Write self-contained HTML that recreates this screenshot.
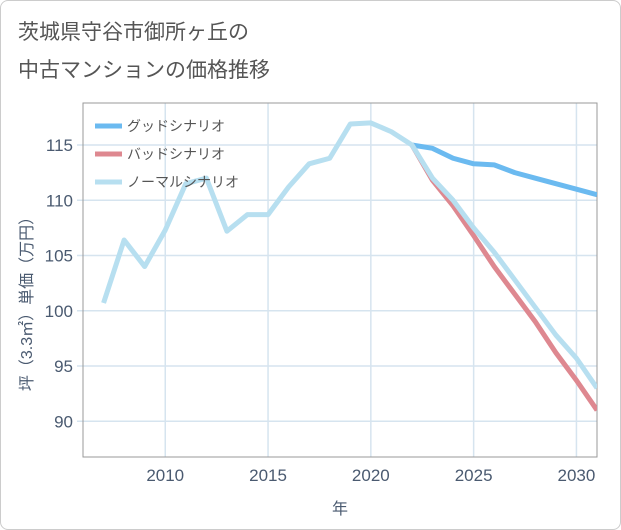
<!DOCTYPE html>
<html><head><meta charset="utf-8"><style>
body{margin:0;background:#fff;}
#wrap{position:relative;width:621px;height:530px;overflow:hidden;font-family:"Liberation Sans","Noto Sans CJK JP",sans-serif;}
#frame{position:absolute;left:0;top:0;width:619px;height:528px;border:1px solid #ccc;border-radius:8px;}
#title{position:absolute;left:18px;top:14px;font-size:21px;line-height:38px;color:#555;}
</style></head><body>
<div id="wrap">
<div id="frame"></div>
<div id="title">茨城県守谷市御所ヶ丘の<br>中古マンションの価格推移</div>
<svg id="chart" width="621" height="530" style="position:absolute;left:0;top:0"></svg>
</div>
<script>
const normYears=[2007,2008,2009,2010,2011,2012,2013,2014,2015,2016,2017,2018,2019,2020,2021,2022,2023,2024,2025,2026,2027,2028,2029,2030,2031];
const normVals=[100.7,106.4,104,107.3,111.5,112,107.2,108.7,108.7,111.2,113.3,113.8,116.9,117,116.2,115,112,110,107.5,105.3,102.8,100.3,97.8,95.7,93];
const goodYears=[2022,2023,2024,2025,2026,2027,2028,2029,2030,2031];
const goodVals=[115,114.7,113.8,113.3,113.2,112.5,112,111.5,111,110.5];
const badYears=[2022,2023,2024,2025,2026,2027,2028,2029,2030,2031];
const badVals=[115,111.8,109.5,106.8,104,101.5,99,96.2,93.7,91];
const xTicks=[2010,2015,2020,2025,2030];
const yTicks=[90,95,100,105,110,115];
const L=83,R=597,T=103,B=457;
const x=v=>L+(v-2006)/(2031-2006)*(R-L);
const y=v=>145+(115-v)*11.05;
const svg=document.getElementById('chart');
const NS='http://www.w3.org/2000/svg';
function mk(t,a){const e=document.createElementNS(NS,t);for(const k in a)e.setAttribute(k,a[k]);svg.appendChild(e);return e;}
xTicks.forEach(t=>{
 const g=mk('line',{x1:x(t),x2:x(t),y1:T,y2:B,stroke:'#d6e4ef','stroke-width':1.5});
 
 
 const l=mk('text',{x:x(t),y:B+24,'text-anchor':'middle','font-size':17,fill:'#4a5a70'});
 l.textContent=t;
 
 
});
yTicks.forEach(t=>{
 const g=mk('line',{x1:L-6,x2:R,y1:y(t),y2:y(t),stroke:'#d6e4ef','stroke-width':1.5});
 
 
 const l=mk('text',{x:L-10,y:y(t)+6,'text-anchor':'end','font-size':17,fill:'#4a5a70'});
 l.textContent=t;
 
 
});
const box=mk('rect',{x:L,y:T,width:R-L,height:B-T,fill:'none',stroke:'#999','stroke-width':1});


const cp=mk('clipPath',{id:'cp'});
const cr=document.createElementNS(NS,'rect');cr.setAttribute('x',L);cr.setAttribute('y',T);cr.setAttribute('width',R-L);cr.setAttribute('height',B-T);cp.appendChild(cr);
function series(xs,vs,c,n){
 const p=mk('polyline',{points:xs.map((v,i)=>x(v)+','+y(vs[i])).join(' '),fill:'none',stroke:c,'stroke-width':5,'stroke-linejoin':'round','clip-path':'url(#cp)'});
 
 
}
series(goodYears,goodVals,'#6bbaf0','good-scenario-line');
series(badYears,badVals,'#de8890','bad-scenario-line');
series(normYears,normVals,'#b7dff0','normal-scenario-line');
const leg=[['グッドシナリオ','#6bbaf0'],['バッドシナリオ','#de8890'],['ノーマルシナリオ','#b7dff0']];
leg.forEach((d,i)=>{
 const yy=126+i*28;
 const s=mk('line',{x1:95,x2:122,y1:yy,y2:yy,stroke:d[1],'stroke-width':5});
 
 
 const t=mk('text',{x:127,y:yy+5,'font-size':14,fill:'#555'});
 t.textContent=d[0];
 
 
});
const xt=mk('text',{x:340,y:514,'text-anchor':'middle','font-size':16,fill:'#4a5a70'});
xt.textContent='年';


const yt=mk('text',{x:0,y:0,'text-anchor':'middle','font-size':16,fill:'#4a5a70',transform:'translate(32,300) rotate(-90)'});
yt.textContent='坪（3.3㎡）単価（万円）';


</script>
</body></html>
